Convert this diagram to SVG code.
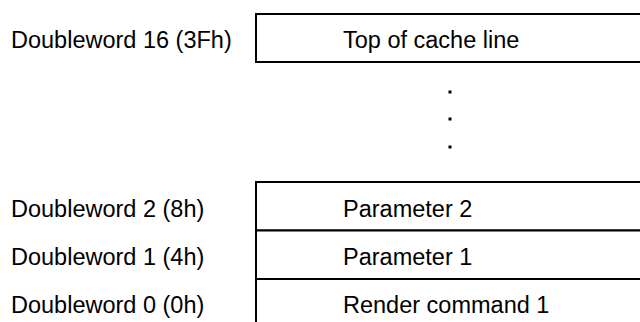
<svg xmlns="http://www.w3.org/2000/svg" width="640" height="322" viewBox="0 0 640 322">
<style>
.lbl{font-family:"Liberation Sans",Arial,sans-serif;font-size:23.5px;fill:#000}
.box{fill:#fff;stroke:#000;stroke-width:2}
.dot{fill:#000}
</style>
<rect width="640" height="322" fill="#fff"/>
<g id="row16">
<rect class="box" x="256" y="14" width="420" height="48"/>
<text class="lbl" x="11" y="48">Doubleword 16 (3Fh)</text>
<text class="lbl" x="343" y="48">Top of cache line</text>
</g>
<g id="ellipsis">
<rect class="dot" x="448.5" y="90.5" width="3" height="3"/>
<rect class="dot" x="448.5" y="117.5" width="3" height="3"/>
<rect class="dot" x="448.5" y="145.5" width="3" height="3"/>
</g>
<g id="row2">
<rect class="box" x="256" y="182" width="420" height="48.5"/>
<text class="lbl" x="11" y="216.5">Doubleword 2 (8h)</text>
<text class="lbl" x="343" y="216.5">Parameter 2</text>
</g>
<g id="row1">
<rect class="box" x="256" y="230.5" width="420" height="48.5"/>
<text class="lbl" x="11" y="265">Doubleword 1 (4h)</text>
<text class="lbl" x="343" y="265">Parameter 1</text>
</g>
<g id="row0">
<rect class="box" x="256" y="279" width="420" height="60"/>
<text class="lbl" x="11" y="313">Doubleword 0 (0h)</text>
<text class="lbl" x="343" y="313">Render command 1</text>
</g>
<g id="connectors"></g>
</svg>
